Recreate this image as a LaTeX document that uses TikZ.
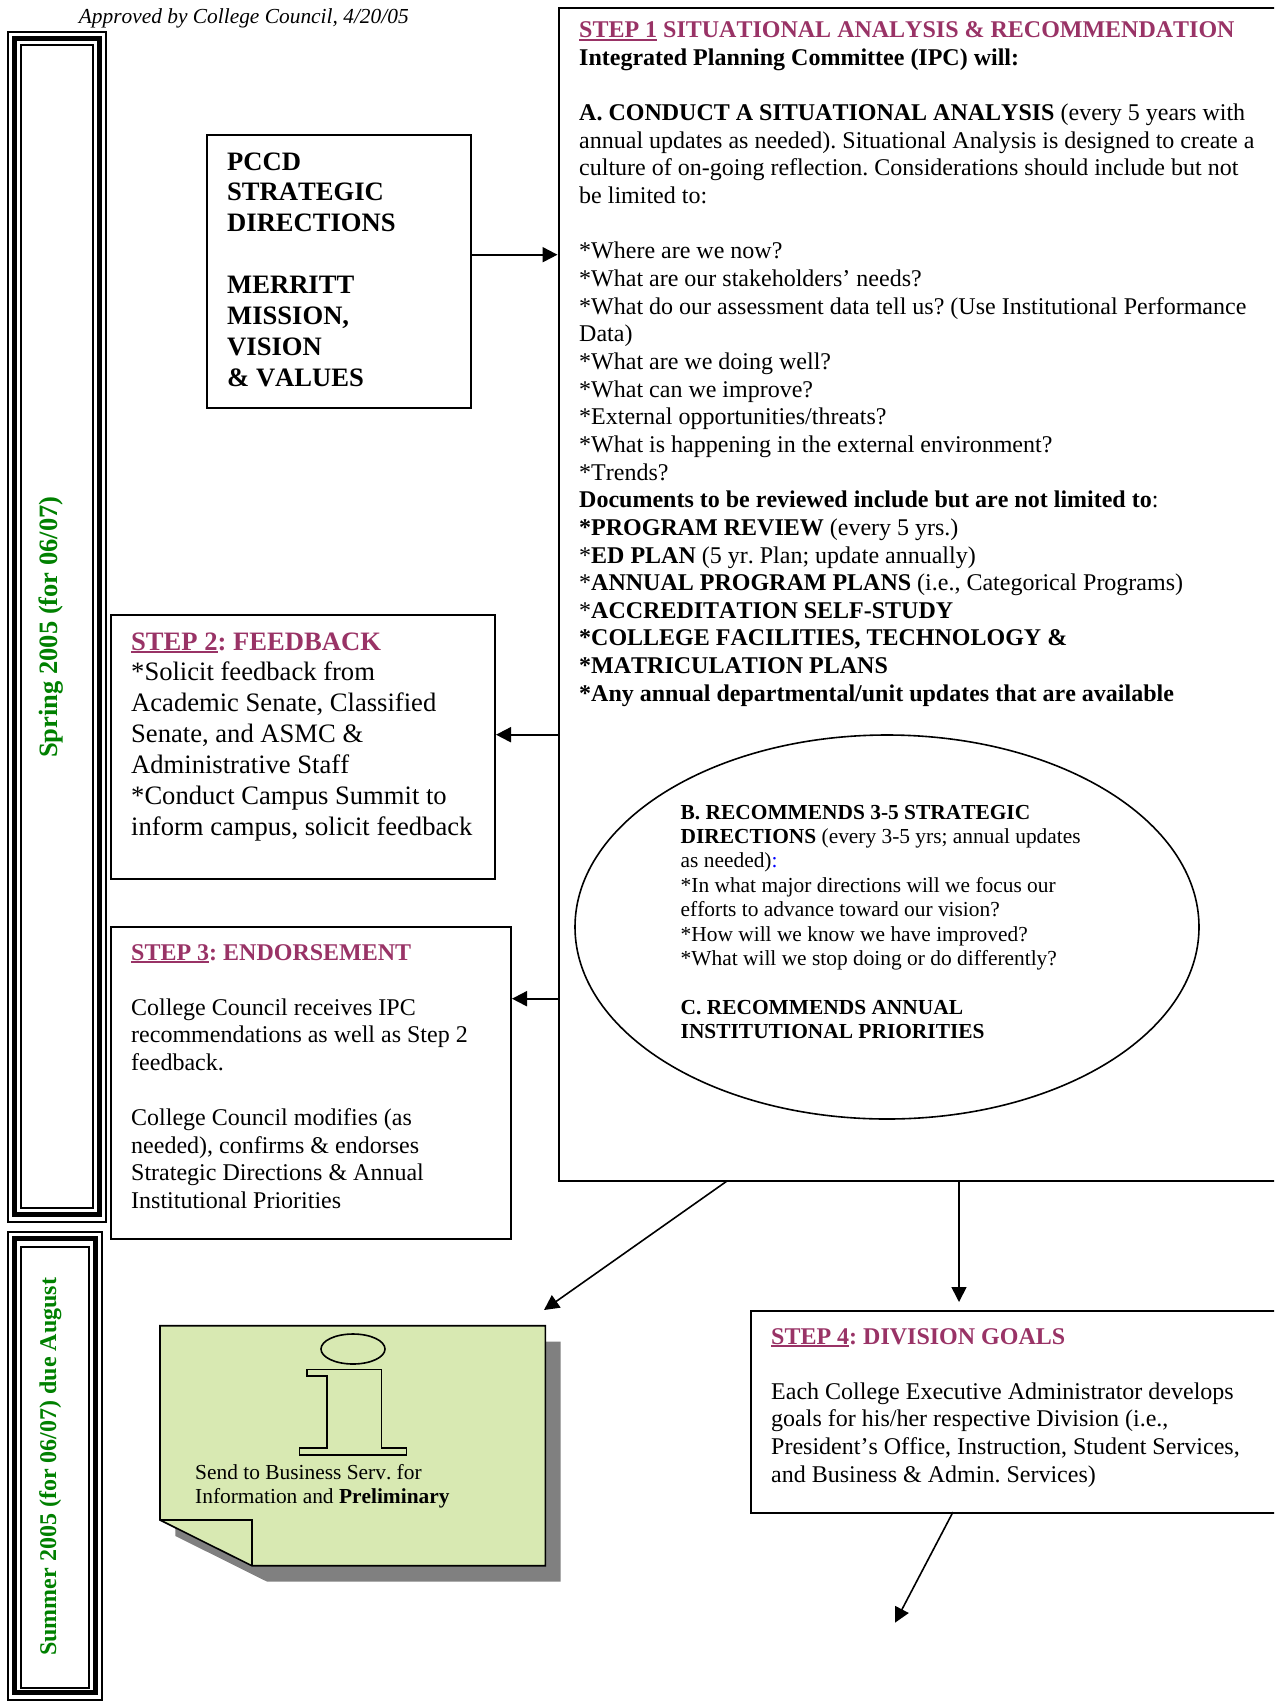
\documentclass[tikz,border=0pt]{standalone}
\usepackage{fontspec}
\setmainfont[Kerning=Off]{Liberation Serif}
\usetikzlibrary{arrows.meta,shapes.geometric}
\definecolor{myplum}{HTML}{993366}
\definecolor{mygreen}{HTML}{008000}
\definecolor{mynote}{HTML}{D8E9B2}
\definecolor{myshadow}{HTML}{808080}
\newcommand{\stepul}[1]{\setbox0=\hbox{#1}\rlap{\rule[-3pt]{\wd0}{2pt}}\box0\relax}

\begin{document}
\begin{tikzpicture}[x=1pt,y=-1pt]
\clip (0,0) rectangle (1274,1702);
\tikzset{stepbox/.style ={draw, line width=2pt, anchor=north west, inner sep=0}}
\tikzset{steptext/.style ={anchor=base west, inner sep=0, align=flush left, text width=#1}}
\tikzset{flow/.style ={-{Triangle[length=15pt,width=15pt]}, line width=2pt}}
\tikzset{slim/.style ={-{Triangle[length=15pt,width=15pt]}, line width=1.6pt}}

% date note
\node[anchor=base west, inner sep=0, font=\fontsize{21.4}{24}\selectfont\itshape] (approved) at (78.6,24) {Approved by College Council, 4/20/05};

% spring strip
\draw[line width=2pt] (8,32) rectangle (106,1222);
\draw[line width=5pt] (14.5,38.5) rectangle (99,1214.5);
\draw[line width=2pt] (21,45.5) rectangle (93,1208);
\node[anchor=base west, inner sep=0, rotate=90, text=mygreen, font=\fontsize{26.5}{27}\selectfont\bfseries] (spring) at (57.5,758) {Spring 2005 (for 06/07)};

% summer strip
\draw[line width=2pt] (8,1232) rectangle (102,1700);
\draw[line width=5pt] (14.5,1238.5) rectangle (95,1692.5);
\draw[line width=2pt] (21,1246.5) rectangle (88.7,1688);
\node[anchor=base west, inner sep=0, rotate=90, text=mygreen, font=\fontsize{24}{27}\selectfont\bfseries] (summer) at (56,1656) {Summer 2005 (for 06/07) due August};

% direction box
\node[stepbox, minimum width=264pt, minimum height=273pt] (pccd) at (206,134) {};
\node[steptext=240pt, font=\frenchspacing\fontsize{26.6}{30.9}\selectfont\bfseries] (pccdtext) at (227,170) {PCCD\\STRATEGIC\\DIRECTIONS\\~\\MERRITT\\MISSION,\\VISION\\\& VALUES};

% step 1
\node[stepbox, minimum width=720pt, minimum height=1173pt] (step1) at (557.5,7) {};
\node[steptext=690pt, font=\frenchspacing\fontsize{24}{27.65}\selectfont] (step1text) at (579,37.7) {{\color{myplum}\bfseries\stepul{STEP 1} SITUATIONAL ANALYSIS \& RECOMMENDATION}\\
\textbf{Integrated Planning Committee (IPC) will:}\\
~\\
\textbf{A. CONDUCT A SITUATIONAL ANALYSIS} (every 5 years with\\
annual updates as needed). Situational Analysis is designed to create a\\
culture of on-going reflection. Considerations should include but not\\
be limited to:\\
~\\
{*}Where are we now?\\
{*}What are our stakeholders’ needs?\\
{*}What do our assessment data tell us? (Use Institutional Performance\\
Data)\\
{*}What are we doing well?\\
{*}What can we improve?\\
{*}External opportunities/threats?\\
{*}What is happening in the external environment?\\
{*}Trends?\\
\textbf{Documents to be reviewed include but are not limited to}:\\
\textbf{*PROGRAM REVIEW} (every 5 yrs.)\\
{*}\textbf{ED PLAN} (5 yr. Plan; update annually)\\
{*}\textbf{ANNUAL PROGRAM PLANS} (i.e., Categorical Programs)\\
{*}\textbf{ACCREDITATION SELF-STUDY}\\
\textbf{*COLLEGE FACILITIES, TECHNOLOGY \&}\\
\textbf{*MATRICULATION PLANS}\\
\textbf{*Any annual departmental/unit updates that are available}};

% recommendations
\node[draw, ellipse, line width=1.6pt, minimum width=624pt, minimum height=384pt, inner sep=0] (recs) at (887,927) {};
\node[steptext=480pt, font=\frenchspacing\fontsize{21.4}{24.4}\selectfont] (recstext) at (680.5,819) {\textbf{B. RECOMMENDS 3-5 STRATEGIC}\\
\textbf{DIRECTIONS} (every 3-5 yrs; annual updates\\
as needed){\color{blue}:}\\
{*}In what major directions will we focus our\\
efforts to advance toward our vision?\\
{*}How will we know we have improved?\\
{*}What will we stop doing or do differently?\\
~\\
\textbf{C. RECOMMENDS ANNUAL}\\
\textbf{INSTITUTIONAL PRIORITIES}};

% step 2
\node[stepbox, minimum width=384pt, minimum height=264pt] (step2) at (110,613.5) {};
\node[steptext=360pt, font=\frenchspacing\fontsize{26.6}{30.9}\selectfont] (step2text) at (131,650) {{\color{myplum}\bfseries\stepul{STEP 2}: FEEDBACK}\\
{*}Solicit feedback from\\
Academic Senate, Classified\\
Senate, and ASMC \&\\
Administrative Staff\\
{*}Conduct Campus Summit to\\
inform campus, solicit feedback};

% step 3
\node[stepbox, minimum width=400pt, minimum height=311.5pt] (step3) at (110,926) {};
\node[steptext=375pt, font=\frenchspacing\fontsize{24}{27.6}\selectfont] (step3text) at (131,960) {{\color{myplum}\bfseries\stepul{STEP 3}: ENDORSEMENT}\\
~\\
College Council receives IPC\\
recommendations as well as Step 2\\
feedback.\\
~\\
College Council modifies (as\\
needed), confirms \& endorses\\
Strategic Directions \& Annual\\
Institutional Priorities};

% step 4
\node[stepbox, minimum width=530pt, minimum height=202pt] (step4) at (750,1310) {};
\node[steptext=495pt, font=\frenchspacing\fontsize{24}{27.6}\selectfont] (step4text) at (771,1344) {{\color{myplum}\bfseries\stepul{STEP 4}: DIVISION GOALS}\\
~\\
Each College Executive Administrator develops\\
goals for his/her respective Division (i.e.,\\
President’s Office, Instruction, Student Services,\\
and Business \& Admin. Services)};

% note
\fill[myshadow] (175.4,1536) -- (267.2,1581.7) -- (560.7,1581.7) -- (560.7,1341.7) -- (175.4,1341.7) -- cycle;
\draw[fill=mynote, line width=1.6pt] (160,1325.7) -- (545.3,1325.7) -- (545.3,1565.7) -- (251.8,1565.7) -- (160,1520) -- cycle;
\draw[line width=1.6pt] (160,1520) -- (251.8,1520) -- (251.8,1565.7);
\draw[line width=1.6pt] (353,1349) ellipse (32 and 15);
\draw[line width=1.6pt] (307,1369.3) -- (381.5,1369.3) -- (381.5,1448) -- (406.4,1448) -- (406.4,1454.7) -- (299.3,1454.7) -- (299.3,1448) -- (327,1448) -- (327,1376) -- (307,1376) -- cycle;
\node[steptext=300pt, font=\frenchspacing\fontsize{21.4}{24}\selectfont] (notetext) at (195,1479) {Send to Business Serv. for\\
Information and \textbf{Preliminary}};

% connectors
\coordinate (pccdy) at (0,254.7);
\coordinate (fbacky) at (0,734.7);
\coordinate (endorsey) at (0,998.7);
\coordinate (goalsx) at (959,0);
\coordinate (noteend) at (727,1181);
\coordinate (notetip) at (544,1310);
\coordinate (goalsout) at (953,1512);
\coordinate (goalstip) at (895,1622.7);
\draw[flow] (pccd.east |- pccdy) -- (step1.west |- pccdy);
\draw[flow] (step1.west |- fbacky) -- (step2.east |- fbacky);
\draw[flow] (step1.west |- endorsey) -- (step3.east |- endorsey);
\draw[slim] (goalsx |- step1.south) -- ([yshift=8pt]goalsx |- step4.north);
\draw[slim] (noteend) -- (notetip);
\draw[slim] (goalsout) -- (goalstip);
\end{tikzpicture}
\end{document}
